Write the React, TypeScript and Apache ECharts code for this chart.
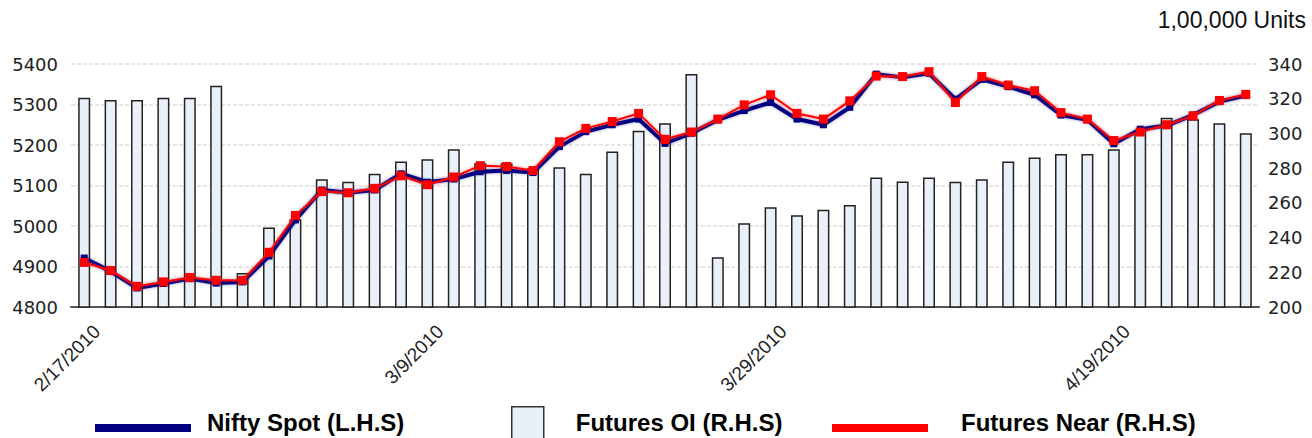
import React, { useEffect, useRef } from "react";
import * as echarts from "echarts";

const dates = [
  "2/17/2010", "2/18/2010", "2/19/2010", "2/22/2010", "2/23/2010", "2/24/2010", "2/25/2010", "2/26/2010",
  "3/2/2010", "3/3/2010", "3/4/2010", "3/5/2010", "3/8/2010", "3/9/2010", "3/10/2010", "3/11/2010",
  "3/12/2010", "3/15/2010", "3/16/2010", "3/17/2010", "3/18/2010", "3/19/2010", "3/22/2010", "3/23/2010",
  "3/25/2010", "3/26/2010", "3/29/2010", "3/30/2010", "3/31/2010", "4/1/2010", "4/5/2010", "4/6/2010",
  "4/7/2010", "4/8/2010", "4/9/2010", "4/12/2010", "4/13/2010", "4/15/2010", "4/16/2010", "4/19/2010",
  "4/20/2010", "4/21/2010", "4/22/2010", "4/23/2010", "4/26/2010",
];

const niftySpot = [
  4921, 4888, 4847, 4858, 4870, 4859, 4862, 4926, 5015, 5089, 5082, 5089, 5129, 5108, 5116,
  5134, 5137, 5132, 5196, 5233, 5250, 5264, 5204, 5229, 5262, 5285, 5305, 5264, 5250, 5293,
  5375, 5367, 5377, 5313, 5362, 5344, 5324, 5274, 5262, 5203, 5239, 5248, 5274, 5307, 5322,
];

const futuresNear = [
  4910, 4890, 4851, 4862, 4873, 4866, 4866, 4935, 5026, 5085, 5082, 5093, 5124, 5102, 5121,
  5149, 5147, 5137, 5208, 5241, 5258, 5278, 5214, 5232, 5264, 5299, 5324, 5278, 5264, 5309,
  5370, 5369, 5381, 5305, 5369, 5348, 5334, 5280, 5264, 5211, 5232, 5250, 5272, 5310, 5325,
];

const futuresOI = [
  320.6, 319.3, 319.3, 320.6, 320.6, 327.5, 219.6, 245.8, 250.6, 273.6,
  272.1, 276.7, 283.8, 285.1, 290.9, 282.8, 282.8, 280, 280.5, 276.7,
  289.6, 301.5, 305.9, 334.2, 228.6, 248.3, 257.5, 252.9, 256, 258.7,
  274.6, 272.3, 274.6, 272.1, 273.6, 283.8, 286.1, 288.2, 288.2, 290.9,
  302, 309.1, 308.2, 305.9, 300.1,
];

const leftAxis = { min: 4800, max: 5400, interval: 100 };
const rightAxis = { min: 200, max: 340, interval: 20 };
const unitsLabel = "1,00,000 Units";
const seriesNames = ["Nifty Spot (L.H.S)", "Futures OI (R.H.S)", "Futures Near (R.H.S)"];

const NAVY = "#000080";
const RED = "#ff0000";
const BAR_FILL = "#eaf0fa";
const BAR_BORDER = "#222222";

// legend line icon: thick bar sitting in the lower part of its item box
const LINE_ICON = "path://M0,0H0.01V0.01H0ZM0,12H96V20H0Z";

export default function App() {
  const ref = useRef<HTMLDivElement>(null);

  useEffect(() => {
    if (!ref.current) return;
    const chart = echarts.init(ref.current, null, { renderer: "svg" });
    const legendText = {
      fontFamily: "'Liberation Sans', Arial, sans-serif",
      fontWeight: "bold" as const,
      fontSize: 24,
      color: "#000",
    };
    const plain = (v: number) => String(v);
    chart.setOption({
      animation: false,
      backgroundColor: "#ffffff",
      title: {
        text: unitsLabel,
        right: 6,
        top: 8,
        padding: 0,
        textStyle: {
          fontFamily: "'Liberation Sans', Arial, sans-serif",
          fontWeight: "normal",
          fontSize: 23,
          color: "#111",
        },
      },
      grid: { left: 71, right: 53, top: 64, bottom: 131 },
      legend: [
        {
          data: [seriesNames[0]],
          left: 95,
          top: 410,
          padding: 0,
          icon: LINE_ICON,
          itemWidth: 96,
          itemHeight: 20,
          itemStyle: { color: NAVY, borderWidth: 0 },
          textStyle: { ...legendText, padding: [0, 0, 0, 11] },
        },
        {
          data: [seriesNames[1]],
          left: 511,
          top: 406,
          padding: 0,
          icon: "rect",
          itemWidth: 32,
          itemHeight: 32,
          itemStyle: { color: BAR_FILL, borderColor: "#333", borderWidth: 1.5 },
          textStyle: { ...legendText, padding: [0, 0, 2, 27] },
        },
        {
          data: [seriesNames[2]],
          left: 832,
          top: 410,
          padding: 0,
          icon: LINE_ICON,
          itemWidth: 96,
          itemHeight: 20,
          itemStyle: { color: RED, borderWidth: 0 },
          textStyle: { ...legendText, padding: [0, 0, 0, 28] },
        },
      ],
      xAxis: {
        type: "category",
        data: dates,
        boundaryGap: true,
        axisLine: { show: true, lineStyle: { color: "#555", width: 2 } },
        axisTick: { show: false },
        axisLabel: {
          interval: 12,
          rotate: 45,
          margin: 34,
          padding: [0, -18, 0, 0],
          fontFamily: "'Liberation Sans', Arial, sans-serif",
          fontSize: 19,
          color: "#222",
        },
        splitLine: { show: false },
      },
      yAxis: [
        {
          type: "value",
          min: leftAxis.min,
          max: leftAxis.max,
          interval: leftAxis.interval,
          axisLine: { show: false },
          axisTick: { show: false },
          axisLabel: {
            margin: 13,
            formatter: plain,
            fontFamily: "'DejaVu Sans', Verdana, sans-serif",
            fontSize: 18,
            color: "#222",
          },
          splitLine: { show: true, lineStyle: { color: "#dedede", width: 1.5, type: [4, 2] } },
        },
        {
          type: "value",
          min: rightAxis.min,
          max: rightAxis.max,
          interval: rightAxis.interval,
          axisLine: { show: false },
          axisTick: { show: false },
          axisLabel: {
            margin: 9,
            formatter: plain,
            fontFamily: "'DejaVu Sans', Verdana, sans-serif",
            fontSize: 18,
            color: "#222",
          },
          splitLine: { show: false },
        },
      ],
      series: [
        {
          name: seriesNames[1],
          type: "bar",
          yAxisIndex: 1,
          data: futuresOI,
          barWidth: 12,
          itemStyle: { color: BAR_FILL, borderColor: BAR_BORDER, borderWidth: 1.5 },
          z: 1,
        },
        {
          name: seriesNames[0],
          type: "line",
          yAxisIndex: 0,
          data: niftySpot,
          symbol: "rect",
          symbolSize: 7,
          itemStyle: { color: NAVY },
          lineStyle: {
            color: NAVY,
            width: 4,
            shadowColor: "rgba(0,0,128,0.45)",
            shadowBlur: 3,
          },
          z: 3,
        },
        {
          name: seriesNames[2],
          type: "line",
          yAxisIndex: 0,
          data: futuresNear,
          symbol: "rect",
          symbolSize: 9,
          itemStyle: { color: RED },
          lineStyle: {
            color: RED,
            width: 2,
            shadowColor: "rgba(255,60,60,0.6)",
            shadowBlur: 3,
          },
          z: 4,
        },
      ],
    });
    return () => chart.dispose();
  }, []);

  return (
    <div
      ref={ref}
      style={{ position: "fixed", left: 0, top: 0, width: 1312, height: 438, background: "#fff" }}
    />
  );
}
